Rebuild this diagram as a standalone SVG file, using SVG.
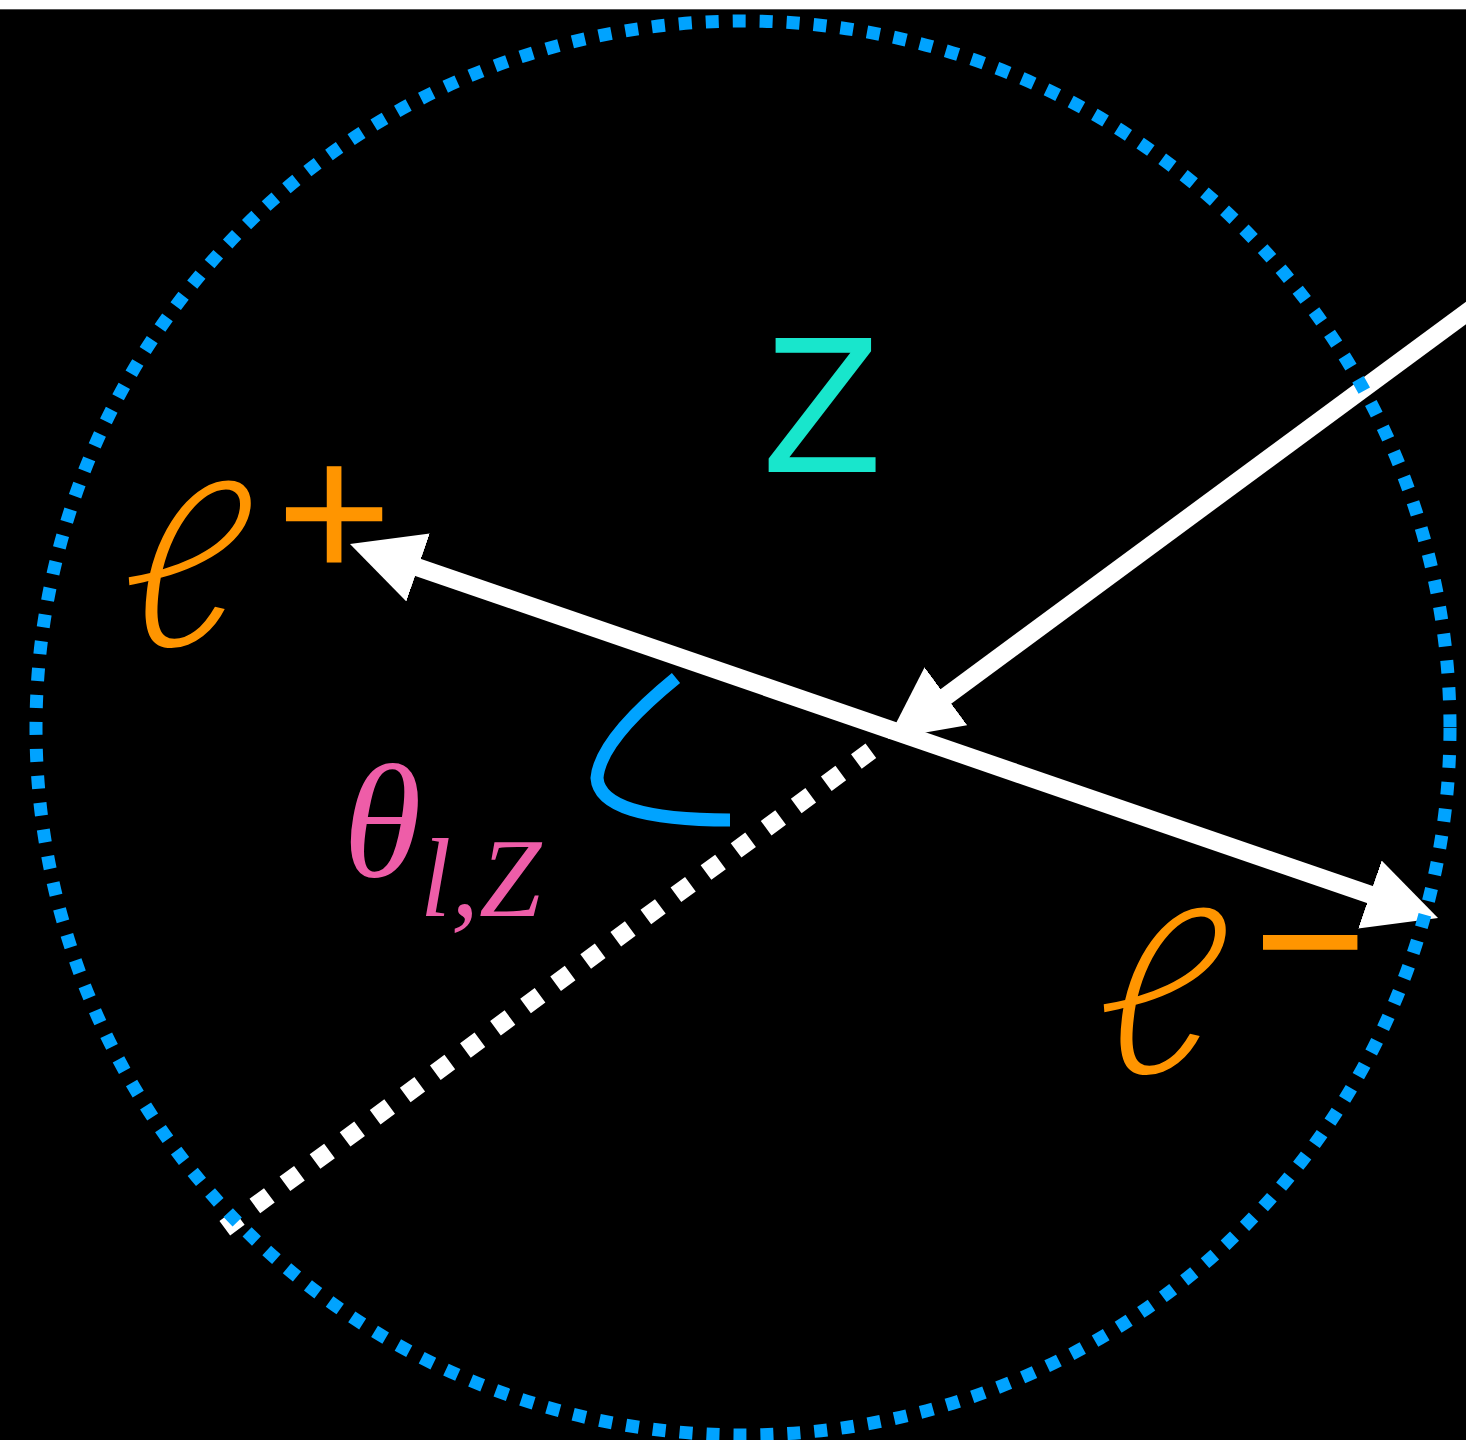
<svg xmlns="http://www.w3.org/2000/svg" width="1466" height="1440" viewBox="0 0 1466 1440">
  <style>
    .wline { fill: none; stroke: #FFFFFF; stroke-width: 18; }
    .dots { fill: none; stroke: #FFFFFF; stroke-width: 18; stroke-dasharray: 18 19.4; }
    .circ { fill: none; stroke: #00A3FF; stroke-width: 13; stroke-dasharray: 13 14; }
    .arc { fill: none; stroke: #00A3FF; stroke-width: 13; }
    .ell { font-family: Lato, "DejaVu Serif", serif; font-style: italic; font-weight: 300; font-size: 231px; fill: #FF9500; }
    .sign { font-family: Inter, "Liberation Sans", sans-serif; font-weight: 300; font-size: 210px; fill: #FF9500; stroke: #FF9500; stroke-width: 1.5; }
    .zlab { font-family: "Liberation Sans", "DejaVu Sans", sans-serif; fill: #18E6CC; }
    .theta { font-family: "Liberation Serif", "DejaVu Serif", serif; font-style: italic; fill: #EE5DA8; }
  </style>
  <defs>
    <marker id="ah" viewBox="0 0 72 72" refX="6" refY="36" markerWidth="72" markerHeight="72" markerUnits="userSpaceOnUse" orient="auto-start-reverse">
      <path d="M0,0 L72,36 L0,72 Z" fill="#FFFFFF"/>
    </marker>
  </defs>
  <rect x="0" y="0" width="1466" height="1440" fill="#000000"/>
  <rect x="0" y="0" width="1466" height="9" fill="#FFFFFF"/>
  <line x1="0" y1="9.5" x2="1466" y2="9.5" stroke="#555555" stroke-width="1"/>

  <g id="connectors">
    <path id="dotted-extension" class="dots" d="M224.8,1228.3 L880,744"/>
    <path id="z-line" class="wline" d="M1490.2,295.2 L941.1,699.9" marker-end="url(#ah)"/>
    <path id="lepton-line" class="wline" d="M412.4,565.5 L1375.6,896.5" marker-start="url(#ah)" marker-end="url(#ah)"/>
    <path id="angle-arc" class="arc" d="M676,678 Q600,740 597,778 Q600,820 730,820"/>
  </g>

  <g id="boundary">
    <circle class="circ" cx="743" cy="728" r="707"/>
  </g>

  <g id="z-label">
    <text class="zlab" x="822" y="472" font-size="195" text-anchor="middle">Z</text>
  </g>

  <g id="lplus-label">
    <text class="ell" transform="translate(114,646) skewX(-7) scale(1.12,1)" x="0" y="0">ℓ</text>
    <text class="sign" x="334" y="574" text-anchor="middle">+</text>
  </g>

  <g id="lminus-label">
    <text class="ell" transform="translate(1089,1073) skewX(-7) scale(1.12,1)" x="0" y="0">ℓ</text>
    <text class="sign" x="1310" y="1002" text-anchor="middle">−</text>
  </g>

  <g id="theta-label">
    <text class="theta" x="343" y="876" font-size="160">θ</text>
    <text class="theta" x="420" y="916" font-size="112">l,Z</text>
  </g>
</svg>
